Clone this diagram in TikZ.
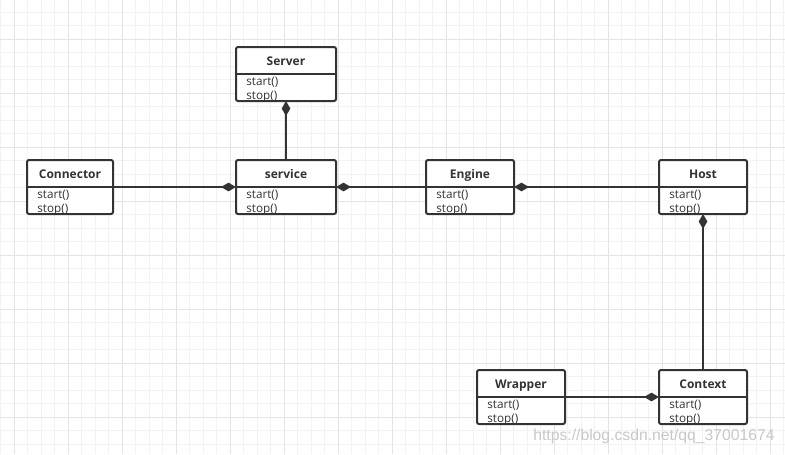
\documentclass[tikz,border=0pt]{standalone}
\usepackage{fontspec}
\setmainfont{Open Sans}
\newfontfamily\wmfont{Liberation Sans}
\usetikzlibrary{arrows.meta,calc}
\definecolor{ink}{HTML}{333333}
\definecolor{gridminor}{HTML}{F2F2F2}
\definecolor{gridmajor}{HTML}{E4E4E4}
\definecolor{wmark}{HTML}{C8C8C8}
\tikzset{
  classbox/.style={rectangle, fill=white, draw=none, minimum height=54*0.75pt, inner sep=0pt, outer sep=0pt},
  border/.style={draw=ink, line width=1.5pt, rounded corners=1.5pt},
  divider/.style={draw=ink, line width=1.5pt},
  titletext/.style={font=\fontsize{9}{10}\selectfont\bfseries, text=ink, inner sep=0pt, anchor=base},
  methodtext/.style={font=\fontsize{8.8}{10}\selectfont, text=ink, inner sep=0pt, anchor=base west},
  compose/.style={draw=ink, line width=1.5pt, -{Diamond[length=11.25pt, width=6.5pt, fill=ink]}},
}
\newcommand\umlclass[5]{%
  \node[classbox, minimum width=#4*0.75pt] (#1) at (#2,#3) {};
  \begin{scope}
    \clip (#1.north west) rectangle (#1.south east);
    \node[methodtext] (#1-start) at ($(#1.west)+(10,11)$) {start()};
    \node[methodtext] (#1-stop) at ($(#1.west)+(10,25)$) {stop()};
  \end{scope}
  \node[titletext] (#1-title) at ($(#1.center)+(0,-8.5)$) {#5};
  \draw[border] (#1.north west) rectangle (#1.south east);
  \draw[divider] (#1.west) -- (#1.east);
}
\begin{document}
\begin{tikzpicture}[x=0.75pt, y=-0.75pt]
\useasboundingbox (0,0) rectangle (785,454);
\fill[white] (0,0) rectangle (785,454);
% grid
\foreach \i in {0,...,58} {
  \draw[gridminor, line width=0.75pt] ({0.8+13.5*\i},0) -- ({0.8+13.5*\i},454);
}
\foreach \i in {0,...,33} {
  \draw[gridminor, line width=0.75pt] (0,{12.3+13.5*\i}) -- (785,{12.3+13.5*\i});
}
\foreach \i in {0,...,14} {
  \draw[gridmajor, line width=0.75pt] ({14.3+54*\i},0) -- ({14.3+54*\i},454);
}
\foreach \i in {0,...,7} {
  \draw[gridmajor, line width=0.75pt] (0,{39.3+54*\i}) -- (785,{39.3+54*\i});
}
% classes
\umlclass{server}{286}{74}{100}{Server}
\umlclass{connector}{70}{187}{86}{Connector}
\umlclass{service}{286}{187}{100}{service}
\umlclass{engine}{470}{187}{88}{Engine}
\umlclass{host}{703}{187}{88}{Host}
\umlclass{wrapper}{521}{397}{88}{Wrapper}
\umlclass{context}{703}{397}{88}{Context}
% compositions
\draw[compose] (service.north) -- (server.south);
\draw[compose] (connector.east) -- (service.west);
\draw[compose] (engine.west) -- (service.east);
\draw[compose] (host.west) -- (engine.east);
\draw[compose] (context.north) -- (host.south);
\draw[compose] (wrapper.east) -- (context.west);
% watermark
\node[font=\wmfont\fontsize{11.8}{13}\selectfont, text=wmark, anchor=west, inner sep=0pt] (wm) at (533,436) {https://blog.csdn.net/qq\_37001674};
\end{tikzpicture}
\end{document}
